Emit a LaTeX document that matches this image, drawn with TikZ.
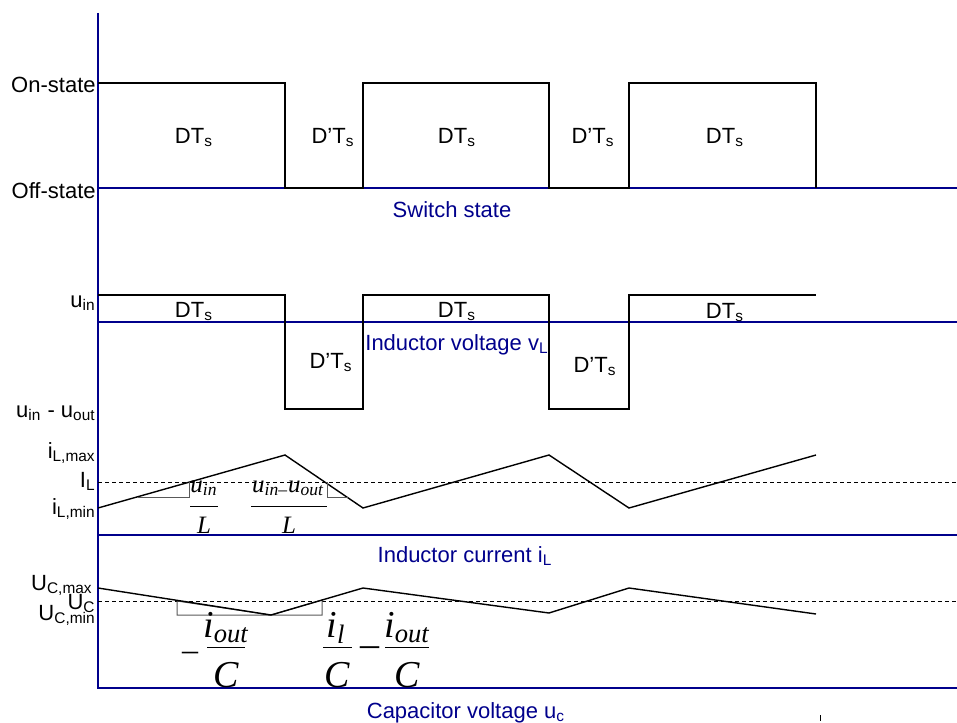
\documentclass[tikz,border=0pt]{standalone}
\usepackage{fontspec}
\setmainfont{Liberation Sans}
\newfontfamily\frmfont{Liberation Serif}
\definecolor{navy}{RGB}{0,0,140}
\begin{document}
\begin{tikzpicture}[x=0.5pt, y=-0.5pt,
    axis/.style = {navy, line width=0.8pt},
    wave/.style = {black, line width=0.7pt},
    mean/.style = {black, line width=0.4pt, dash pattern=on 2pt off 1.5pt},
    slope/.style = {black!65, line width=0.5pt},
    lbl/.style = {font=\fontsize{11}{13}\selectfont, inner sep=0pt, anchor=base},
    ylbl/.style = {lbl, anchor=base east},
    plotcap/.style = {lbl, text=navy},
    frm/.style = {font=\frmfont\itshape\fontsize{19}{21}\selectfont, inner sep=0pt, anchor=base},
    frs/.style = {font=\frmfont\itshape\fontsize{12.5}{14}\selectfont, inner sep=0pt, anchor=base}]
  \useasboundingbox (0,0) rectangle (957,722);

  % axes
  \draw[axis] (98,13) -- (98,688) -- (957,688);
  \draw[axis] (98,188) -- (957,188);
  \draw[axis] (98,322) -- (957,322);
  \draw[axis] (98,535) -- (957,535);
  \draw[mean] (98,482) -- (957,482);
  \draw[mean] (98,601) -- (957,601);

  % switch state
  \draw[wave] (98,83) -- (285,83) -- (285,188) -- (363,188) -- (363,83) -- (549,83)
    -- (549,188) -- (629,188) -- (629,83) -- (816,83) -- (816,188);
  \node[ylbl] (on) at (96,92) {On-state};
  \node[ylbl] (off) at (96,198) {Off-state};
  \node[lbl] (s1) at (194,143) {DT\textsubscript{s}};
  \node[lbl] (s2) at (333,143) {D’T\textsubscript{s}};
  \node[lbl] (s3) at (457,143) {DT\textsubscript{s}};
  \node[lbl] (s4) at (593,143) {D’T\textsubscript{s}};
  \node[lbl] (s5) at (725,143) {DT\textsubscript{s}};
  \node[plotcap] (swcap) at (452,217) {Switch state};

  % inductor voltage
  \draw[wave] (98,295) -- (285,295) -- (285,409) -- (363,409) -- (363,295) -- (549,295)
    -- (549,409) -- (629,409) -- (629,295) -- (816,295);
  \node[ylbl] (uin) at (96,307) {u\textsubscript{in}};
  \node[ylbl] (udiff) at (96,417) {u\textsubscript{in} - u\textsubscript{out}};
  \node[lbl] (v1) at (194,317) {DT\textsubscript{s}};
  \node[lbl] (v2) at (331,368) {D’T\textsubscript{s}};
  \node[lbl] (v3) at (457,317) {DT\textsubscript{s}};
  \node[lbl] (v4) at (595,372) {D’T\textsubscript{s}};
  \node[lbl] (v5) at (725,318) {DT\textsubscript{s}};
  \node[plotcap] (vlcap) at (457,350) {Inductor voltage v\textsubscript{L}};

  % inductor current
  \draw[wave] (98,508) -- (285,455) -- (363,508) -- (549,455) -- (629,508) -- (816,455);
  \draw[slope] (138,497) -- (189,497) -- (189,482);
  \draw[slope] (327,482) -- (327,497) -- (348,497);
  \node[ylbl] (imax) at (96,458) {i\textsubscript{L,max}};
  \node[ylbl] (il) at (96,487) {I\textsubscript{L}};
  \node[ylbl] (imin) at (96,514) {i\textsubscript{L,min}};
  \node[frs] (rise) at (204,492) {u\textsubscript{in}};
  \node[frs] (riseL) at (204,533) {L};
  \draw (190,506) -- (218,506);
  \node[frs] (fall) at (288,492) {u\textsubscript{in–}u\textsubscript{out}};
  \node[frs] (fallL) at (289,533) {L};
  \draw (251,506) -- (327,506);
  \node[plotcap] (ilcap) at (465,562) {Inductor current i\textsubscript{L}};

  % capacitor voltage
  \draw[slope] (177,601) -- (177,615) -- (271,615) -- cycle;
  \draw[slope] (271,615) -- (322,615) -- (322,600) -- cycle;
  \draw[wave] (98,588) -- (271,615) -- (363,588) -- (549,613) -- (629,588) -- (816,614);
  \node[ylbl] (ucmax) at (93,590) {U\textsubscript{C,max}};
  \node[ylbl] (uc) at (96,609) {U\textsubscript{C}};
  \node[ylbl] (ucmin) at (96,620) {U\textsubscript{C,min}};
  \node[frm, font=\frmfont\fontsize{16}{18}\selectfont] (m1) at (190,660) {–};
  \node[frm] (dis) at (226,637) {i\textsubscript{out}};
  \node[frm] (disC) at (226,687) {C};
  \draw (207,647) -- (245,647);
  \node[frm] (chg) at (336,637) {i\textsubscript{l}};
  \node[frm] (chgC) at (337,687) {C};
  \draw (323,647) -- (352,647);
  \node[frm, font=\frmfont\fontsize{19}{21}\selectfont] (m2) at (370,656) {–};
  \node[frm] (out) at (407,637) {i\textsubscript{out}};
  \node[frm] (outC) at (407,687) {C};
  \draw (385,647) -- (429,647);
  \node[plotcap] (uccap) at (466,718) {Capacitor voltage u\textsubscript{c}};
  \draw (820,715) -- (820,721);
\end{tikzpicture}
\end{document}
